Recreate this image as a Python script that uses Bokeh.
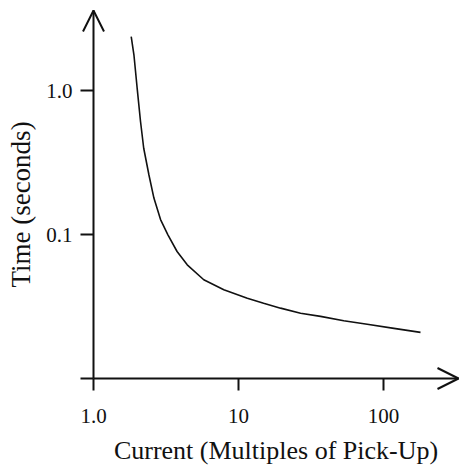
from bokeh.plotting import figure
from bokeh.models import Range1d, FixedTicker, Arrow, OpenHead, Label
from bokeh.embed import file_html
from bokeh.resources import INLINE

# Inverse-time relay characteristic: operating time vs. current (multiples of pick-up)
current = [1.82, 1.90, 2.00, 2.11, 2.22, 2.41, 2.61, 2.90, 3.26, 3.77, 4.43, 5.76,
           7.92, 11.5, 14.9, 19.5, 26.8, 36.8, 53.2, 77.2, 118, 180]
time_s = [2.37, 1.77, 1.04, 0.609, 0.397, 0.260, 0.179, 0.127, 0.0995, 0.0762, 0.0616,
          0.0485, 0.0413, 0.0361, 0.0333, 0.0308, 0.0284, 0.0270, 0.0252, 0.0238,
          0.0223, 0.0209]

x_ticks = [1, 10, 100]
x_tick_labels = ["1.0", "10", "100"]
y_ticks = [0.01, 0.1, 1]
y_tick_labels = ["", "0.1", "1.0"]

W, H = 459, 466
X_ORIGIN, X_DECADE = 93, 145      # screen x of 1.0 and pixels per decade
Y_ORIGIN, Y_DECADE = 378, 144     # screen y of 0.01 and pixels per decade

# axes run from the origin out to the arrow tips
x_axis_end = 10 ** ((458 - X_ORIGIN) / X_DECADE)
y_axis_end = 10 ** (-2 + (Y_ORIGIN - 10) / Y_DECADE)

# the frame fills the whole canvas so the arrowheads are not clipped
x_range = Range1d(10 ** (-X_ORIGIN / X_DECADE), 10 ** ((W - X_ORIGIN) / X_DECADE))
y_range = Range1d(10 ** (-2 - (H - Y_ORIGIN) / Y_DECADE), 10 ** (-2 + Y_ORIGIN / Y_DECADE))

FONT = "Liberation Serif"
INK = "#111111"

p = figure(width=W, height=H, x_axis_type="log", y_axis_type="log",
           x_range=x_range, y_range=y_range,
           output_backend="svg", toolbar_location=None,
           min_border=0)
p.outline_line_color = None
p.grid.visible = False
p.background_fill_color = "white"
p.border_fill_color = "white"

p.line(current, time_s, line_color=INK, line_width=1.6)

xa, ya = p.xaxis[0], p.yaxis[0]
xa.fixed_location = 0.01
ya.fixed_location = 1
xa.bounds = (1, x_axis_end)
ya.bounds = (0.01, y_axis_end)

for ax, ticks, labels, tick_out in ((xa, x_ticks, x_tick_labels, 12),
                                     (ya, y_ticks, y_tick_labels, 13)):
    ax.ticker = FixedTicker(ticks=ticks, minor_ticks=[])
    ax.major_label_overrides = {t: lab for t, lab in zip(ticks, labels)}
    ax.major_tick_out = tick_out
    ax.major_tick_in = 0
    ax.minor_tick_out = 0
    ax.minor_tick_in = 0
    ax.axis_line_width = 2
    ax.axis_line_color = INK
    ax.major_tick_line_width = 2
    ax.major_tick_line_color = INK
    ax.major_label_text_font = FONT
    ax.major_label_text_font_size = "21px"
    ax.major_label_text_color = INK

xa.axis_label = "Current (Multiples of Pick-Up)"
xa.axis_label_text_font = FONT
xa.axis_label_text_font_style = "normal"
xa.axis_label_text_color = INK
xa.axis_label_text_font_size = "26px"
xa.major_label_standoff = 18
xa.axis_label_standoff = 10

ya.major_label_standoff = 8

p.add_layout(Label(x=20, y=H - 204, x_units="screen", y_units="screen",
                   text="Time (seconds)", angle=90, angle_units="deg",
                   text_align="center", text_baseline="middle",
                   text_font=FONT, text_font_size="27px", text_color=INK))

# open arrowheads at the far ends of both axes
p.add_layout(Arrow(end=OpenHead(size=21, line_width=2, line_color=INK),
                   x_start=x_axis_end / 2, y_start=0.01, x_end=x_axis_end, y_end=0.01,
                   line_alpha=0))
p.add_layout(Arrow(end=OpenHead(size=21, line_width=2, line_color=INK),
                   x_start=1, y_start=y_axis_end / 2, x_end=1, y_end=y_axis_end,
                   line_alpha=0))

open("out.html", "w").write(file_html(p, INLINE))
